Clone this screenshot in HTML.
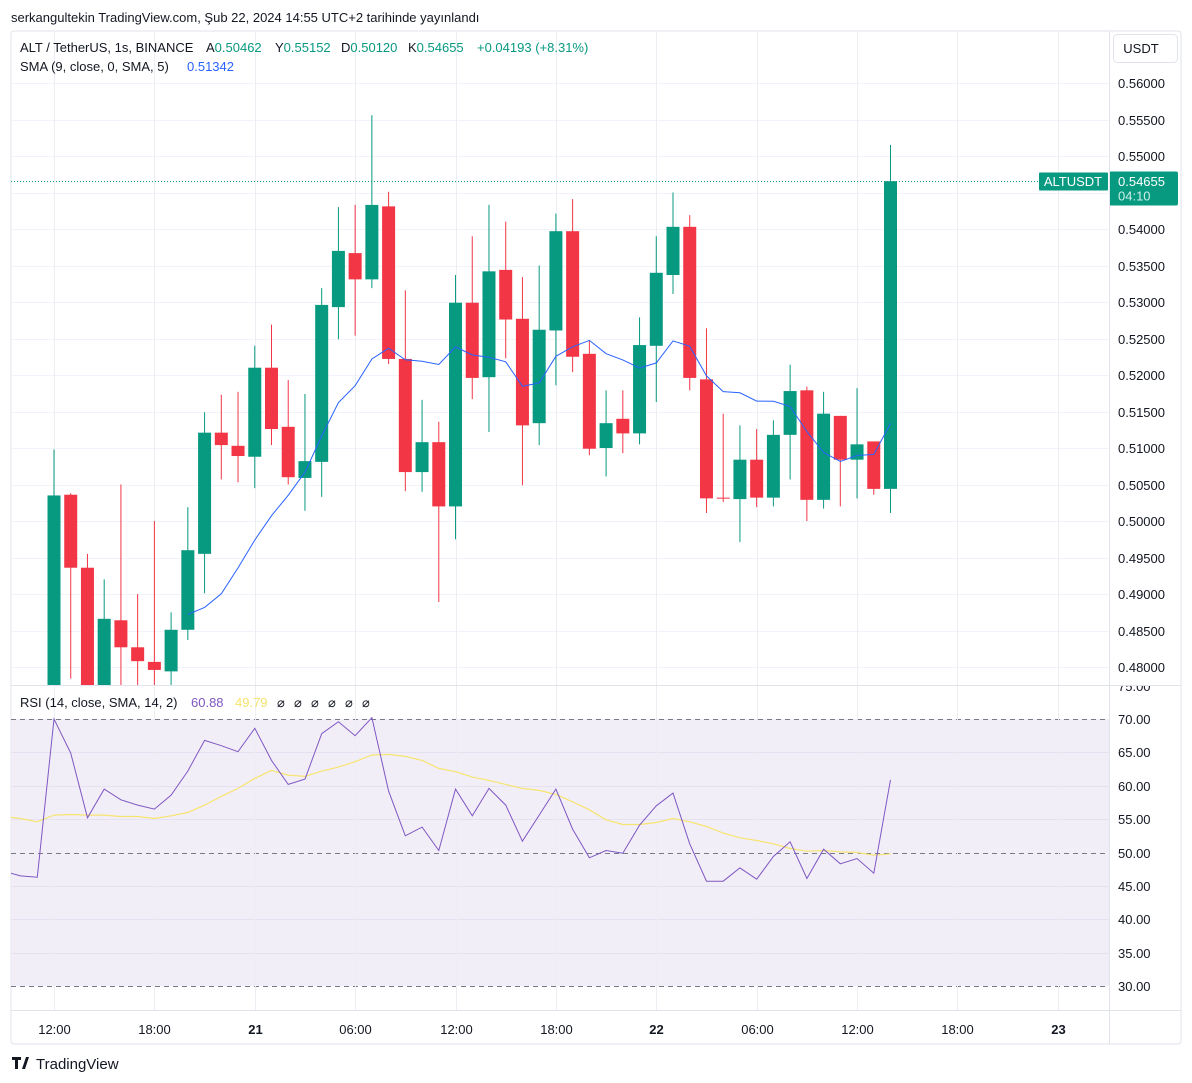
<!DOCTYPE html>
<html><head><meta charset="utf-8"><style>
html,body{margin:0;padding:0;background:#fff;}
body{width:1192px;height:1083px;position:relative;overflow:hidden;font-family:"Liberation Sans",Arial,sans-serif;}
svg{position:absolute;left:0;top:0;}
</style></head><body>
<svg id="c" width="1192" height="1083" viewBox="0 0 1192 1083" font-family="Liberation Sans, Arial, sans-serif">
<defs>
<clipPath id="pclip"><rect x="11" y="32" width="1098" height="653"/></clipPath>
<clipPath id="rclip"><rect x="11" y="686" width="1098" height="324"/></clipPath>
</defs>
<text x="11" y="22" font-size="13" fill="#131722">serkangultekin TradingView.com, Şub 22, 2024 14:55 UTC+2 tarihinde yayınlandı</text>
<rect x="11" y="31" width="1170" height="1013" fill="#fff" stroke="#e0e3eb" rx="3"/>
<rect x="11" y="719" width="1098" height="267" fill="#f2eef8"/>
<g id="grid"></g>
<g id="candles" clip-path="url(#pclip)"></g>
<g id="rsig" clip-path="url(#rclip)"></g>
<g id="axes"></g>
<line x1="11" y1="685.5" x2="1181" y2="685.5" stroke="#e0e3eb"/>
<line x1="11" y1="1010.5" x2="1181" y2="1010.5" stroke="#e0e3eb"/>
<line x1="1109.5" y1="31" x2="1109.5" y2="1044" stroke="#e0e3eb"/>
<g font-size="13">
<text y="52" fill="#131722"><tspan x="20">ALT / TetherUS, 1s, BINANCE</tspan><tspan x="206">A</tspan><tspan fill="#089981">0.50462</tspan><tspan x="275">Y</tspan><tspan fill="#089981">0.55152</tspan><tspan x="341">D</tspan><tspan fill="#089981">0.50120</tspan><tspan x="408">K</tspan><tspan fill="#089981">0.54655</tspan><tspan x="477" fill="#089981">+0.04193 (+8.31%)</tspan></text>
<text y="71" fill="#131722"><tspan x="20">SMA (9, close, 0, SMA, 5)</tspan><tspan x="187" fill="#2962ff">0.51342</tspan></text>
</g>
<g font-size="13">
<text y="707" fill="#131722"><tspan x="20">RSI (14, close, SMA, 14, 2)</tspan><tspan x="191" fill="#7e57c2">60.88</tspan><tspan x="235" fill="#f5e36b">49.79</tspan><tspan x="277">⌀</tspan><tspan x="294">⌀</tspan><tspan x="311">⌀</tspan><tspan x="328">⌀</tspan><tspan x="345">⌀</tspan><tspan x="362">⌀</tspan></text>
</g>
<g>
<rect x="1113.5" y="34.5" width="64" height="28" rx="4" fill="#fff" stroke="#e0e3eb"/>
<text x="1141" y="53" font-size="13" text-anchor="middle" fill="#131722">USDT</text>
</g>
<g>
<path d="M12 1057h9v3h-3v9h-3v-9h-3z M22 1069l4-12h3l-4 12z" fill="#131722"/>
<text x="36" y="1069" font-size="15" fill="#131722">TradingView</text>
</g>
</svg>
<script>
const opens=[0.4755,0.5036,0.4936,0.4750,0.4864,0.4827,0.4807,0.4794,0.4851,0.4955,0.5121,0.5103,0.5088,0.5210,0.5129,0.5059,0.5081,0.5293,0.5367,0.5331,0.5431,0.5222,0.5067,0.5108,0.5020,0.5299,0.5197,0.5344,0.5277,0.5134,0.5261,0.5397,0.5229,0.5100,0.5140,0.5120,0.5240,0.5337,0.5403,0.5194,0.5032,0.5030,0.5084,0.5032,0.5118,0.5179,0.5029,0.5144,0.5084,0.5109,0.5044];
const highs=[0.5098,0.5038,0.4955,0.4920,0.5050,0.4900,0.5000,0.4875,0.5019,0.5149,0.5173,0.5177,0.5240,0.5269,0.5193,0.5174,0.5319,0.5430,0.5433,0.5556,0.5451,0.5316,0.5166,0.5136,0.5337,0.5390,0.5433,0.5410,0.5334,0.5350,0.5421,0.5441,0.5248,0.5179,0.5179,0.5279,0.5390,0.5450,0.5419,0.5264,0.5147,0.5131,0.5126,0.5138,0.5214,0.5184,0.5177,0.5144,0.5182,0.5109,0.5515];
const lows=[0.4740,0.4784,0.4740,0.4730,0.4770,0.4760,0.4765,0.4770,0.4837,0.4901,0.5057,0.5053,0.5045,0.5104,0.5050,0.5014,0.5033,0.5249,0.5254,0.5319,0.5215,0.5041,0.5040,0.4889,0.4975,0.5167,0.5122,0.5223,0.5049,0.5104,0.5186,0.5204,0.5090,0.5061,0.5093,0.5105,0.5163,0.5311,0.5179,0.5011,0.5026,0.4971,0.5019,0.5020,0.5057,0.5000,0.5017,0.5020,0.5031,0.5036,0.5011];
const closes=[0.5035,0.4936,0.4770,0.4866,0.4827,0.4808,0.4796,0.4851,0.4960,0.5121,0.5104,0.5089,0.5210,0.5126,0.5060,0.5082,0.5296,0.5370,0.5331,0.5433,0.5222,0.5067,0.5108,0.5020,0.5299,0.5196,0.5342,0.5276,0.5131,0.5262,0.5397,0.5225,0.5099,0.5134,0.5120,0.5241,0.5340,0.5403,0.5196,0.5031,0.5031,0.5084,0.5032,0.5118,0.5178,0.5029,0.5147,0.5084,0.5105,0.5044,0.54655];
const rsiStart=-3;
const rsiValues=[47.2,46.5,46.3,70.0,64.9,55.2,59.5,57.9,57.1,56.5,58.6,62.2,66.8,66.0,65.1,68.6,63.8,60.2,61.0,67.8,69.6,67.5,70.2,59.2,52.5,53.8,50.3,59.5,55.5,59.6,57.1,51.7,55.6,59.5,53.5,49.2,50.3,49.9,54.1,57.0,58.9,51.3,45.7,45.7,47.7,46.0,49.4,51.6,46.1,50.5,48.3,49.1,46.9,60.88];
const rsiMaValues=[55.4,55.1,54.6,55.6,55.7,55.6,55.6,55.4,55.4,55.1,55.5,56.0,57.1,58.4,59.6,61.1,62.3,61.6,61.4,62.2,62.8,63.6,64.6,64.7,64.4,63.8,62.6,62.1,61.3,60.8,60.2,59.6,59.3,58.7,57.6,56.4,54.9,54.2,54.2,54.5,55.1,54.6,53.9,52.9,52.2,51.8,51.3,50.6,50.2,50.3,50.1,50.0,49.6,49.79];
const priceTicks=[0.480,0.485,0.490,0.495,0.500,0.505,0.510,0.515,0.520,0.525,0.530,0.535,0.540,0.545,0.550,0.555,0.560];
const rsiTicks=[30,35,40,45,50,55,60,65,70,75];
const timeLabels=["12:00","18:00","21","06:00","12:00","18:00","22","06:00","12:00","18:00","23"];
const timeLabelIdx=[0,6,12,18,24,30,36,42,48,54,60];
const boldLabels=["21","22","23"];
const smaPeriod=9;

const NS="http://www.w3.org/2000/svg";
const X=i=>54+i*16.73;
const PY=p=>83+(0.56-p)*7300;
const RY=v=>719+(70-v)*6.675;
function mk(tag,attrs,parent){const e=document.createElementNS(NS,tag);for(const k in attrs)e.setAttribute(k,attrs[k]);parent.appendChild(e);return e;}
const grid=document.getElementById('grid'),cg=document.getElementById('candles'),rg=document.getElementById('rsig'),ax=document.getElementById('axes');
const d=document.querySelector('defs');mk('clipPath',{id:'rclipAxis'},d);mk('rect',{x:1110,y:686,width:80,height:330},document.getElementById('rclipAxis'));

priceTicks.forEach(p=>{const y=Math.round(PY(p))+0.5;
 const l=mk('line',{x1:11,x2:1109,y1:y,y2:y,stroke:'#f0f3fa'},grid);
 
 
 const t=mk('text',{x:1118,y:y+4.5,'font-size':13,fill:'#131722'},ax);t.textContent=p.toFixed(5);
 
 });
rsiTicks.forEach(v=>{const y=Math.round(RY(v))+0.5;
 if(v!==30&&v!==50&&v!==70&&v<75){const l=mk('line',{x1:11,x2:1109,y1:y,y2:y,stroke:'#e6e1f0'},grid);
 
 }
 const t=mk('text',{x:1118,y:y+4.5,'font-size':13,fill:'#131722'},ax);t.textContent=v.toFixed(2);
 
 
 if(v===75)t.setAttribute('clip-path','url(#rclipAxis)');});
[70,50,30].forEach(v=>{const y=Math.round(RY(v))+0.5;
 const l=mk('line',{x1:11,x2:1109,y1:y,y2:y,stroke:'#787b86','stroke-dasharray':'5,4'},grid);
 
 });
timeLabels.forEach((s,k)=>{const x=Math.round(X(timeLabelIdx[k]))+0.5;
 const l=mk('line',{x1:x,x2:x,y1:32,y2:1010,stroke:'#eceef3'},grid);
 
 
 const t=mk('text',{x:x,y:1034,'font-size':13,'text-anchor':'middle',fill:'#131722','font-weight':boldLabels.includes(s)?'bold':'normal'},ax);t.textContent=s;
 
 });

for(let i=0;i<closes.length;i++){
 const up=closes[i]>=opens[i],col=up?'#089981':'#f23645',x=X(i);
 const w=mk('line',{x1:x,x2:x,y1:PY(highs[i]),y2:PY(lows[i]),stroke:col,'stroke-width':1},cg);
 
 
 const top=PY(Math.max(opens[i],closes[i])),bot=PY(Math.min(opens[i],closes[i]));
 const b=mk('rect',{x:x-6.5,y:top,width:13,height:Math.max(1,bot-top),fill:col},cg);
 
 
}
let pts=[];for(let i=smaPeriod-1;i<closes.length;i++){let s=0;for(let j=i-smaPeriod+1;j<=i;j++)s+=closes[j];pts.push(X(i).toFixed(1)+','+PY(s/smaPeriod).toFixed(1));}
const sl=mk('polyline',{points:pts.join(' '),fill:'none',stroke:'#2962ff','stroke-width':1},cg);


const yl=Math.round(PY(closes[closes.length-1]))+0.5;
const pl=mk('line',{x1:11,x2:1109,y1:yl,y2:yl,stroke:'#089981','stroke-dasharray':'1,2'},grid);


const sym=mk('rect',{x:1039,y:yl-9,width:69,height:18,fill:'#089981',rx:1},ax);


const st=mk('text',{x:1073,y:yl+4.5,'font-size':13,fill:'#fff','text-anchor':'middle'},ax);st.textContent='ALTUSDT';


const pb=mk('rect',{x:1109,y:yl-10,width:69,height:34,fill:'#089981',rx:2},ax);


const pt=mk('text',{x:1118,y:yl+4.5,'font-size':13,fill:'#fff'},ax);pt.textContent=closes[closes.length-1].toFixed(5);


const ct=mk('text',{x:1118,y:yl+19,'font-size':13,fill:'#cfeee8'},ax);ct.textContent='04:10';


const rp=rsiValues.map((v,k)=>X(k+rsiStart).toFixed(1)+','+RY(v).toFixed(1)).join(' ');
const mp=rsiMaValues.map((v,k)=>X(k+rsiStart).toFixed(1)+','+RY(v).toFixed(1)).join(' ');
const ml=mk('polyline',{points:mp,fill:'none',stroke:'#f7e46e','stroke-width':1.2},rg);


const rl=mk('polyline',{points:rp,fill:'none',stroke:'#7e57c2','stroke-width':1},rg);


</script>
</body></html>
